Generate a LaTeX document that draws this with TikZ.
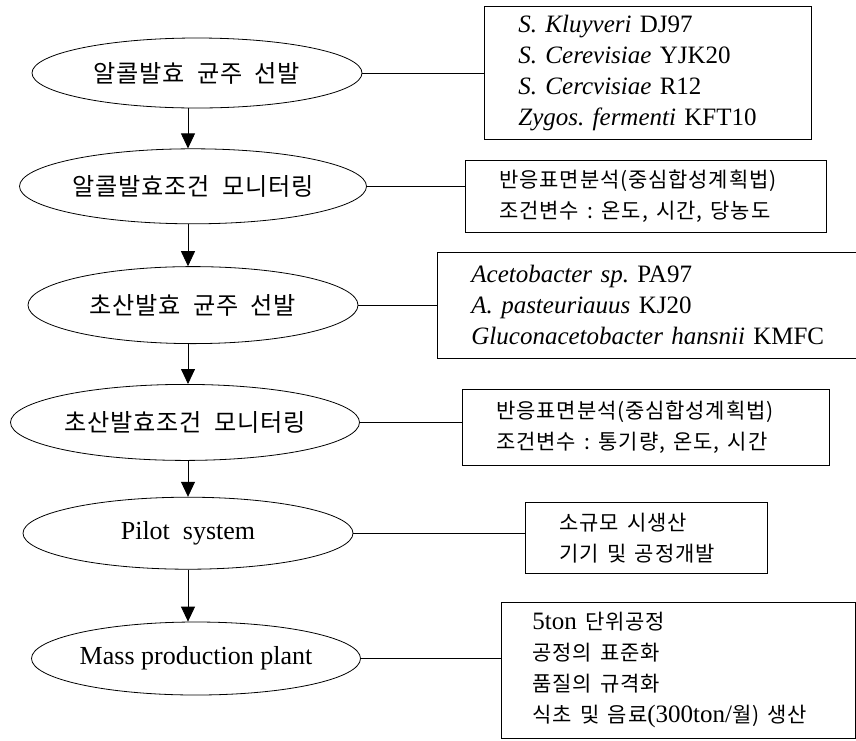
\documentclass[tikz,border=0pt]{standalone}
\usepackage{fontspec}
\setmainfont{Liberation Serif}
\newfontfamily\kr[Scale=0.84,LetterSpace=4,WordSpace=2.2]{Noto Sans CJK KR}
\newfontfamily\krbig[Scale=0.93,LetterSpace=3,WordSpace=2]{Noto Sans CJK KR}
\newcommand\ks{\nobreak\ }
\usepackage{tikz}
\usetikzlibrary{arrows.meta,positioning,shapes.geometric}

\begin{document}
\begin{tikzpicture}[
    x = 1pt, y = 1pt,
    > = {Triangle[length=15pt,width=14pt]}, % arrow head style
    font = \fontsize{25}{31}\selectfont,
    line width = 0.8pt % line style
]
\tikzstyle{stage}=[
    draw = black,
    ellipse,
    inner sep = 0pt,
    font = \fontsize{26}{31}\selectfont
]
\tikzstyle{notes}=[
    draw = black,
    rectangle,
    anchor = north west,
    align = left,
    inner xsep = 34pt,
    inner ysep = 0pt
]

\useasboundingbox (0,0) rectangle (856,-740);
\coordinate (axis) at (188,0);

\node[stage, minimum width=330pt, minimum height=70pt] (e1) at (197,-73) {\krbig 알콜발효 균주 선발};
\node[stage, minimum width=347pt, minimum height=75pt] (e2) [below=40pt of e1, xshift=-4pt] {\krbig 알콜발효조건 모니터링};
\node[stage, minimum width=330pt, minimum height=77pt] (e3) [below=42pt of e2] {\krbig 초산발효 균주 선발};
\node[stage, minimum width=349pt, minimum height=76pt] (e4) [below=40pt of e3, xshift=-8pt] {\krbig 초산발효조건 모니터링};
\node[stage, minimum width=330pt, minimum height=72pt] (e5) [below=36pt of e4, xshift=3pt] {Pilot\ \ system};
\node[stage, minimum width=329pt, minimum height=73pt] (e6) [below=52pt of e5, xshift=8pt] {Mass\ production\ plant};

\node[notes, text width=259pt, minimum height=133pt] (b1) at (484,-6)
    {\textit{S.~Kluyveri}~DJ97\\ \textit{S.~Cerevisiae}~YJK20\\ \textit{S.~Cercvisiae}~R12\\ \textit{Zygos.~fermenti}~KFT10};
\node[notes, text width=293pt, minimum height=72pt] (b2) at (465,-160)
    {\kr 반응표면분석(중심합성계획법)\\ \kr 조건변수\ks:\ks 온도,\ks 시간,\ks 당농도};
\node[notes, text width=354pt, minimum height=106pt] (b3) at (437,-252)
    {\textit{Acetobacter~sp.}~PA97\\ \textit{A.~pasteuriauus}~KJ20\\ \textit{Gluconacetobacter~hansnii}~KMFC};
\node[notes, text width=299pt, minimum height=76pt] (b4) at (462,-389)
    {\kr 반응표면분석(중심합성계획법)\\ \kr 조건변수\ks:\ks 통기량,\ks 온도,\ks 시간};
\node[notes, text width=174pt, minimum height=71pt] (b5) at (525,-502)
    {\kr 소규모\ks 시생산\\ \kr 기기\ks 및\ks 공정개발};
\node[notes, text width=292pt, minimum height=136pt, inner xsep=31pt] (b6) at (501,-602)
    {5ton~{\kr 단위공정}\\ {\kr 공정의\ks 표준화}\\ {\kr 품질의\ks 규격화}\\ {\kr 식초\ks 및\ks 음료}(300ton/{\kr 월)\ks 생산}};

\path[->] (axis |- e1.south) edge (axis |- e2.north);
\path[->] (axis |- e2.south) edge (axis |- e3.north);
\path[->] (axis |- e3.south) edge (axis |- e4.north);
\path[->] (axis |- e4.south) edge (axis |- e5.north);
\path[->] (axis |- e5.south) edge (axis |- e6.north);

\draw (e1.east) -- (e1.east -| b1.west);
\draw (e2.east) -- (e2.east -| b2.west);
\draw (e3.east) -- (e3.east -| b3.west);
\draw (e4.east) -- (e4.east -| b4.west);
\draw (e5.east) -- (e5.east -| b5.west);
\draw (e6.east) -- (e6.east -| b6.west);

\end{tikzpicture}
\end{document}
